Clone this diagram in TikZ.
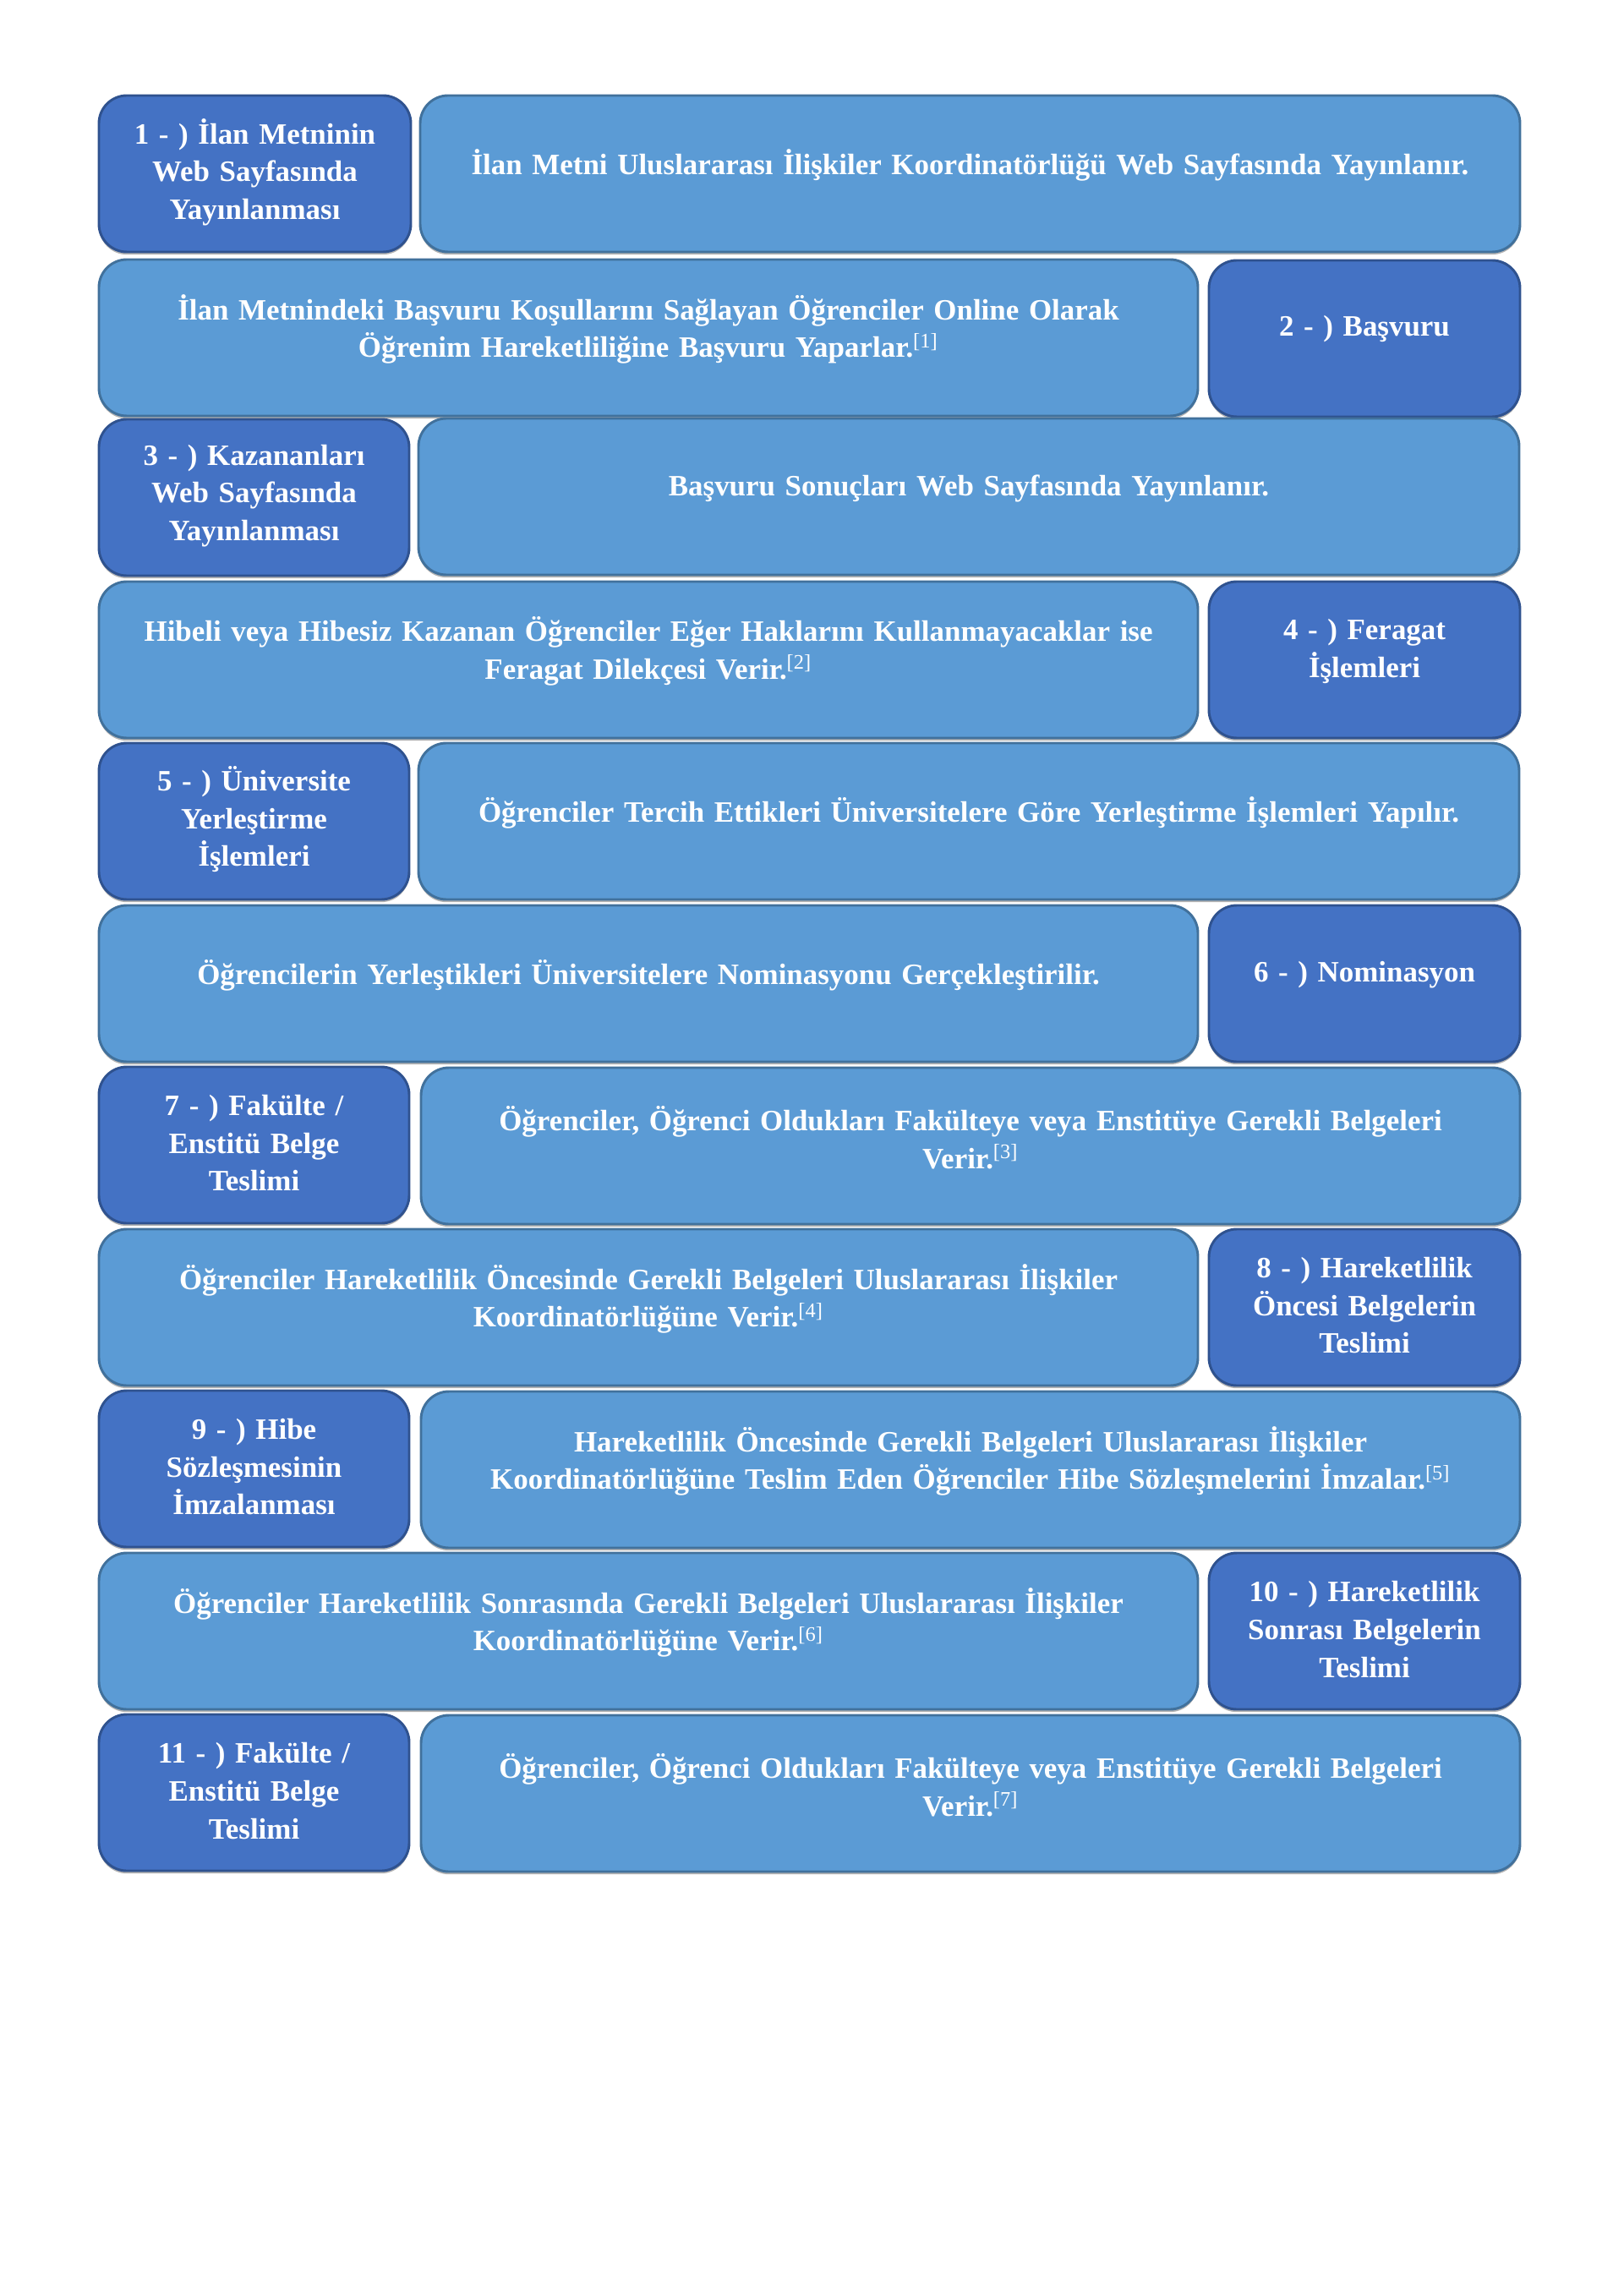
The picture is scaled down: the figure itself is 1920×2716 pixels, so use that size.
\documentclass[tikz,border=0pt]{standalone}
\usepackage{fontspec}
\setmainfont{Liberation Serif}[WordSpace=0.8]
\usetikzlibrary{shadows}
\definecolor{lightfill}{HTML}{5B9BD5}
\definecolor{lightline}{HTML}{41719C}
\definecolor{darkfill}{HTML}{4472C4}
\definecolor{darkline}{HTML}{2F528F}
\tikzset{
  boxbase/.style={rounded corners=12.4pt, line width=1.1pt, inner sep=0pt,
    drop shadow={shadow xshift=0pt, shadow yshift=-1.2pt, opacity=0.3, fill=black}},
  lightbox/.style={boxbase, fill=lightfill, draw=lightline},
  darkbox/.style={boxbase, fill=darkfill, draw=darkline},
  txt/.style={align=center, text=white, inner sep=0pt,
    font=\bfseries\fontsize{13.1}{16.7}\selectfont}
}
\newcommand\rowbox[7]{%
  \pgfmathsetmacro\bw{(#5-#3)*0.375}%
  \pgfmathsetmacro\tw{(#5-#3-20)*0.375}%
  \pgfmathsetmacro\bx{(#3+#5)/2}%
  \pgfmathsetmacro\by{#4+92.5}%
  \pgfmathsetmacro\sh{#7*0.375}%
  \node[#2, minimum width=\bw pt, minimum height=69.375pt] (#1) at (\bx,\by) {};
  \node[txt, text width=\tw pt] (#1t) at ([yshift=\sh pt]#1.center) {#6};
}
\newcommand\sref[1]{\textsuperscript{\mdseries[#1]}}
\begin{document}
\begin{tikzpicture}[x=0.375pt,y=-0.375pt]
\useasboundingbox[fill=white] (0,0) rectangle (1920,2716);
% row 1
\rowbox{s1}{darkbox}{117}{113}{486}{1 - ) İlan Metninin\\Web Sayfasında\\Yayınlanması}{2}
\rowbox{b1}{lightbox}{497}{113}{1798}{İlan Metni Uluslararası İlişkiler Koordinatörlüğü Web Sayfasında Yayınlanır.}{10}
% row 2
\rowbox{b2}{lightbox}{117}{307}{1417}{İlan Metnindeki Başvuru Koşullarını Sağlayan Öğrenciler Online Olarak\\Öğrenim Hareketliliğine Başvuru Yaparlar.\sref{1}}{10}
\rowbox{s2}{darkbox}{1430}{308}{1798}{2 - ) Başvuru}{11}
% row 3
\rowbox{s3}{darkbox}{117}{496}{484}{3 - ) Kazananları\\Web Sayfasında\\Yayınlanması}{2}
\rowbox{b3}{lightbox}{495}{495}{1797}{Başvuru Sonuçları Web Sayfasında Yayınlanır.}{10}
% row 4
\rowbox{b4}{lightbox}{117}{688}{1417}{Hibeli veya Hibesiz Kazanan Öğrenciler Eğer Haklarını Kullanmayacaklar ise\\Feragat Dilekçesi Verir.\sref{2}}{10}
\rowbox{s4}{darkbox}{1430}{688}{1798}{4 - ) Feragat\\İşlemleri}{10}
% row 5
\rowbox{s5}{darkbox}{117}{879}{484}{5 - ) Üniversite\\Yerleştirme\\İşlemleri}{2}
\rowbox{b5}{lightbox}{495}{879}{1797}{Öğrenciler Tercih Ettikleri Üniversitelere Göre Yerleştirme İşlemleri Yapılır.}{10}
% row 6
\rowbox{b6}{lightbox}{117}{1071}{1417}{Öğrencilerin Yerleştikleri Üniversitelere Nominasyonu Gerçekleştirilir.}{10}
\rowbox{s6}{darkbox}{1430}{1071}{1798}{6 - ) Nominasyon}{10}
% row 7
\rowbox{s7}{darkbox}{117}{1262}{484}{7 - ) Fakülte /\\Enstitü Belge\\Teslimi}{2}
\rowbox{b7}{lightbox}{498}{1263}{1798}{Öğrenciler, Öğrenci Oldukları Fakülteye veya Enstitüye Gerekli Belgeleri\\Verir.\sref{3}}{10}
% row 8
\rowbox{b8}{lightbox}{117}{1454}{1417}{Öğrenciler Hareketlilik Öncesinde Gerekli Belgeleri Uluslararası İlişkiler\\Koordinatörlüğüne Verir.\sref{4}}{10}
\rowbox{s8}{darkbox}{1430}{1454}{1798}{8 - ) Hareketlilik\\Öncesi Belgelerin\\Teslimi}{2}
% row 9
\rowbox{s9}{darkbox}{117}{1645}{484}{9 - ) Hibe\\Sözleşmesinin\\İmzalanması}{2}
\rowbox{b9}{lightbox}{498}{1646}{1798}{Hareketlilik Öncesinde Gerekli Belgeleri Uluslararası İlişkiler\\Koordinatörlüğüne Teslim Eden Öğrenciler Hibe Sözleşmelerini İmzalar.\sref{5}}{10}
% row 10
\rowbox{b10}{lightbox}{117}{1837}{1417}{Öğrenciler Hareketlilik Sonrasında Gerekli Belgeleri Uluslararası İlişkiler\\Koordinatörlüğüne Verir.\sref{6}}{10}
\rowbox{s10}{darkbox}{1430}{1837}{1798}{10 - ) Hareketlilik\\Sonrası Belgelerin\\Teslimi}{2}
% row 11
\rowbox{s11}{darkbox}{117}{2028}{484}{11 - ) Fakülte /\\Enstitü Belge\\Teslimi}{2}
\rowbox{b11}{lightbox}{498}{2029}{1798}{Öğrenciler, Öğrenci Oldukları Fakülteye veya Enstitüye Gerekli Belgeleri\\Verir.\sref{7}}{10}
\end{tikzpicture}
\end{document}
